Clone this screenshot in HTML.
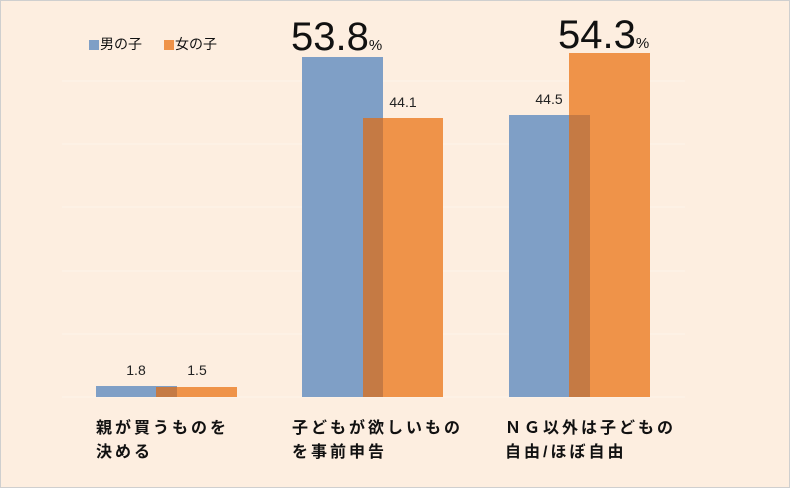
<!DOCTYPE html>
<html><head><meta charset="utf-8"><style>
body{margin:0;width:792px;height:490px;overflow:hidden;background:#fff}
svg{display:block}
text{font-family:"Liberation Sans","Noto Sans CJK JP",sans-serif}
</style></head><body>
<svg width="792" height="490" viewBox="0 0 792 490">
<rect x="0.5" y="0.5" width="789" height="487" fill="#fdeee0" stroke="#cfcfcf"/>
<g stroke="#fdf4ea" stroke-width="1">
<line x1="62" y1="81" x2="685" y2="81"/>
<line x1="62" y1="144" x2="685" y2="144"/>
<line x1="62" y1="207" x2="685" y2="207"/>
<line x1="62" y1="271" x2="685" y2="271"/>
<line x1="62" y1="334" x2="685" y2="334"/>
<line x1="62" y1="397" x2="685" y2="397"/>
</g>
<rect x="96" y="386" width="81" height="11" fill="#7f9fc6"/>
<rect x="156" y="387" width="81" height="10" fill="#ef9349"/>
<rect x="156" y="387" width="21" height="10" fill="#c57a44"/>
<rect x="302" y="57" width="81" height="340" fill="#7f9fc6"/>
<rect x="363" y="118" width="80" height="279" fill="#ef9349"/>
<rect x="363" y="118" width="20" height="279" fill="#c57a44"/>
<rect x="509" y="115" width="81" height="282" fill="#7f9fc6"/>
<rect x="569" y="53" width="81" height="344" fill="#ef9349"/>
<rect x="569" y="115" width="21" height="282" fill="#c57a44"/>
<g font-size="14" fill="#222" text-anchor="middle">
<text x="136" y="375">1.8</text>
<text x="197" y="375">1.5</text>
<text x="403" y="107">44.1</text>
<text x="549" y="104">44.5</text>
</g>
<text x="291" y="50" font-size="40" fill="#111">53.8<tspan font-size="15">%</tspan></text>
<text x="558" y="48" font-size="40" fill="#111">54.3<tspan font-size="15">%</tspan></text>
<rect x="89" y="40" width="10" height="10" fill="#7f9fc6"/>
<text x="100" y="49" font-size="14" fill="#111">男の子</text>
<rect x="164" y="40" width="10" height="10" fill="#ef9349"/>
<text x="175" y="49" font-size="14" fill="#111">女の子</text>
<g font-size="16" font-weight="bold" fill="#111" letter-spacing="3">
<text x="96" y="433">親が買うものを</text>
<text x="96" y="457">決める</text>
<text x="292" y="433">子どもが欲しいもの</text>
<text x="292" y="457">を事前申告</text>
<text x="505" y="433">ＮＧ以外は子どもの</text>
<text x="505" y="457">自由/ほぼ自由</text>
</g>
</svg>
</body></html>
